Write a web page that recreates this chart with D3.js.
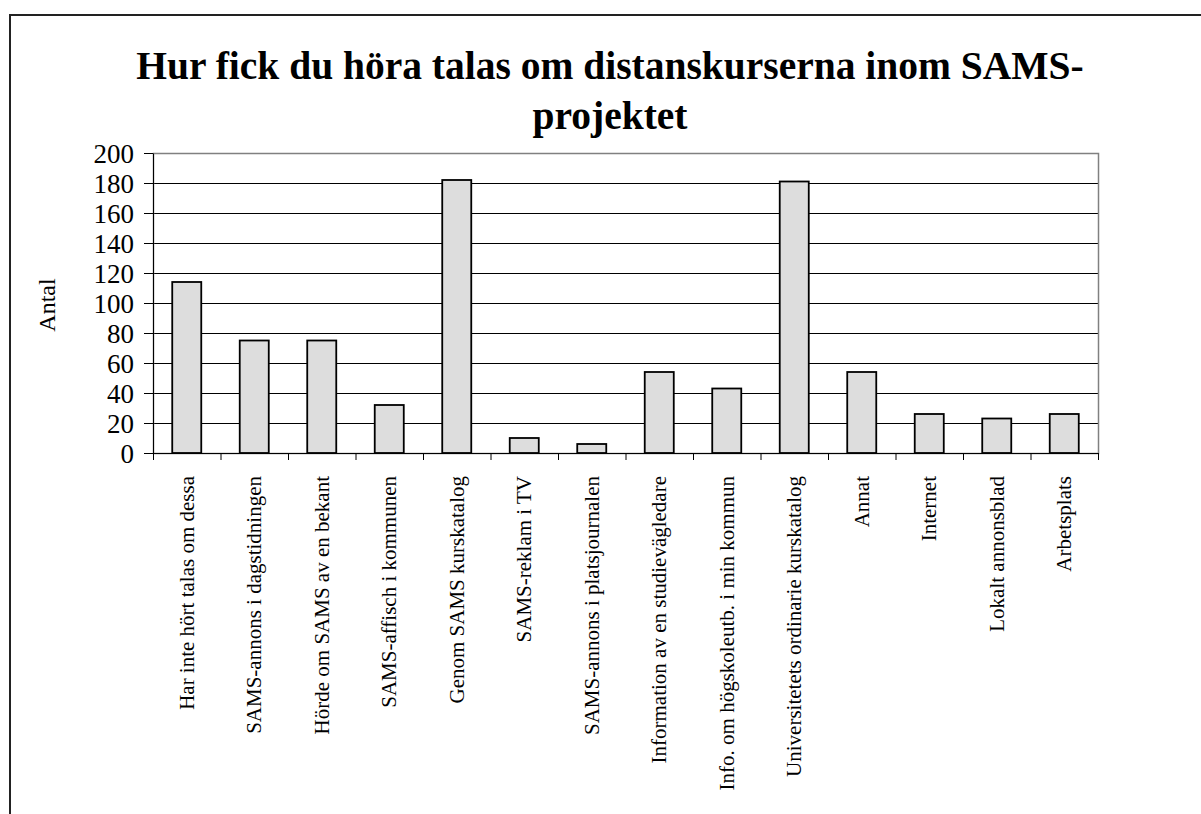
<!DOCTYPE html>
<html>
<head>
<meta charset="utf-8">
<script src="https://cdn.jsdelivr.net/npm/d3@7"></script>
<style>
  body { margin: 0; background: #fff; }
  text { font-family: "Liberation Serif", "Times New Roman", serif; fill: #000; }
</style>
</head>
<body>
<script>
// data
const categories = [
  "Har inte hört talas om dessa",
  "SAMS-annons i dagstidningen",
  "Hörde om SAMS av en bekant",
  "SAMS-affisch i kommunen",
  "Genom SAMS kurskatalog",
  "SAMS-reklam i TV",
  "SAMS-annons i platsjournalen",
  "Information av en studievägledare",
  "Info. om högskoleutb. i min kommun",
  "Universitetets ordinarie kurskatalog",
  "Annat",
  "Internet",
  "Lokalt annonsblad",
  "Arbetsplats"
];
const counts = [114, 75, 75, 32, 182, 10, 6, 54, 43, 181, 54, 26, 23, 26];
const yTicks = [0, 20, 40, 60, 80, 100, 120, 140, 160, 180, 200];
const titleLines = ["Hur fick du höra talas om distanskurserna inom SAMS-", "projektet"];
const yTitle = "Antal";

const width = 1201, height = 814;
const plotL = 153, plotR = 1098, plotT = 153, plotB = 453;

const svg = d3.select("body").append("svg")
  .attr("width", width)
  .attr("height", height);

// outer chart frame (runs off the right and bottom edge)
svg.append("rect")
  .attr("x", 10).attr("y", 15)
  .attr("width", 1400).attr("height", 1000)
  .attr("fill", "none")
  .attr("stroke", "#222")
  .attr("stroke-width", 2);

// title
svg.append("g").selectAll("text")
  .data(titleLines)
  .enter().append("text")
  .attr("x", 610)
  .attr("y", (d, i) => 79 + i * 50)
  .attr("text-anchor", "middle")
  .style("font-size", "39.5px")
  .style("font-weight", "bold")
  .text(d => d);

const x = d3.scaleBand().domain(categories).range([plotL, plotR]).padding(0);
const xIdx = d3.scaleLinear().domain([0, categories.length]).range([plotL, plotR]);
const y = d3.scaleLinear().domain([0, 200]).range([plotB, plotT]);

// gridlines
svg.append("g").selectAll("line")
  .data(yTicks.filter(v => v > 0 && v < 200))
  .enter().append("line")
  .attr("x1", plotL).attr("x2", plotR)
  .attr("y1", d => Math.round(y(d)) + 0.5)
  .attr("y2", d => Math.round(y(d)) + 0.5)
  .attr("stroke", "#000")
  .attr("stroke-width", 1);

// plot area border
svg.append("rect")
  .attr("x", plotL + 0.5).attr("y", plotT + 0.5)
  .attr("width", plotR - plotL).attr("height", plotB - plotT)
  .attr("fill", "none")
  .attr("stroke", "#808080")
  .attr("stroke-width", 1.5);

// bars
const barW = x.bandwidth() * 0.43;
svg.append("g").selectAll("rect")
  .data(counts)
  .enter().append("rect")
  .attr("x", (d, i) => x(categories[i]) + (x.bandwidth() - barW) / 2)
  .attr("y", d => y(d))
  .attr("width", barW)
  .attr("height", d => plotB - y(d))
  .attr("fill", "#dddddd")
  .attr("stroke", "#000")
  .attr("stroke-width", 1.8);

// y axis
const yAxis = svg.append("g")
  .attr("transform", `translate(${plotL},0)`)
  .call(d3.axisLeft(y).tickValues(yTicks).tickSize(9).tickPadding(10).tickSizeOuter(0));
yAxis.selectAll("text").style("font-size", "27px").attr("dy", "0.35em");
yAxis.selectAll("line, path").attr("stroke", "#000");

// x axis: ticks sit on the category boundaries
const xAxis = svg.append("g")
  .attr("transform", `translate(0,${plotB})`)
  .call(d3.axisBottom(xIdx).ticks(categories.length).tickFormat("").tickSize(7).tickSizeOuter(0));
xAxis.selectAll("line, path").attr("stroke", "#000");

// category labels, rotated
svg.append("g").selectAll("text")
  .data(categories)
  .enter().append("text")
  .attr("transform", d => `translate(${x(d) + x.bandwidth() / 2},476) rotate(-90)`)
  .attr("text-anchor", "end")
  .attr("dominant-baseline", "central")
  .style("font-size", "21px")
  .text(d => d);

// y axis title
svg.append("text")
  .attr("transform", "translate(47,305) rotate(-90)")
  .attr("text-anchor", "middle")
  .attr("dominant-baseline", "central")
  .style("font-size", "24px")
  .text(yTitle);
</script>
</body>
</html>
